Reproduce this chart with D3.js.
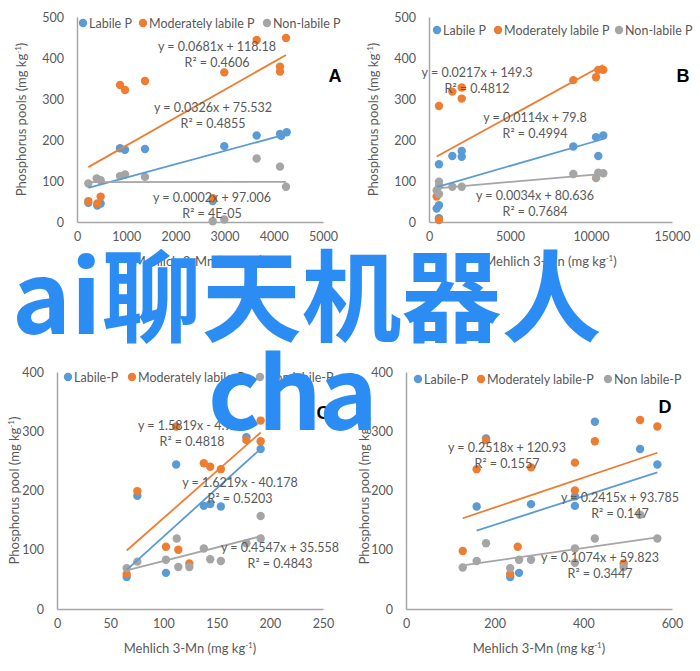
<!DOCTYPE html>
<html>
<head>
<meta charset="utf-8">
<script src="https://cdn.jsdelivr.net/npm/d3@7"></script>
<style>
  body { margin: 0; background: #fff; }
  text { font-family: Lato, "Noto Sans", sans-serif; }
</style>
</head>
<body>
<div id="d3_container"></div>
<script>

// ---- data ----
const seriesNames = ["Labile P", "Moderately labile P", "Non-labile P"];
const seriesNamesCD = ["Labile-P", "Moderately labile-P", "Non labile-P"];
const colors = ["#5b9bd5", "#ed7d31", "#a5a5a5"];

// panel A
const aLabile = [[230,47],[413,40],[481,45],[874,180],[976,176],[1382,178],[2758,51],[2994,185],[3652,211],[4126,215],[4150,210],[4262,219]];
const aModerate = [[230,51],[413,45],[481,62],[874,334],[976,322],[1382,344],[2758,58],[2994,365],[3652,444],[4126,379],[4126,367],[4248,449]];
const aNonLabile = [[230,94],[400,106],[481,102],[874,112],[976,116],[1382,110],[2758,2],[2994,6],[3652,155],[4126,135],[4248,86]];
const aTrend = [[0.0326,75.532],[0.0681,118.18],[0.0002,97.006]];
const aEq = [["y = 0.0326x + 75.532","R² = 0.4855"],["y = 0.0681x + 118.18","R² = 0.4606"],["y = 0.0002x + 97.006","R² = 4E-05"]];
const aXTicks = [0,1000,2000,3000,4000,5000];
const aYTicks = [0,100,200,300,400,500];

// panel B
const bLabile = [[475,33],[617,41],[617,9],[617,141],[1440,161],[2020,173],[2020,159],[8910,184],[10310,207],[10450,161],[10760,211]];
const bModerate = [[475,62],[617,5],[617,283],[1440,318],[2020,328],[2020,301],[8910,346],[10310,353],[10450,371],[10760,371]];
const bNonLabile = [[475,77],[617,98],[617,88],[617,68],[1440,86],[2020,86],[8910,117],[10310,107],[10450,120],[10760,119]];
const bTrend = [[0.0114,79.8],[0.0217,149.3],[0.0034,80.636]];
const bEq = [["y = 0.0114x + 79.8","R² = 0.4994"],["y = 0.0217x + 149.3","R² = 0.4812"],["y = 0.0034x + 80.636","R² = 0.7684"]];
const bXTicks = [0,5000,10000,15000];
const bYTicks = [0,100,200,300,400,500];

// panel C
const cLabile = [[65.5,54],[75.5,191],[102.4,61],[112,244],[138,174],[144,177],[154,173],[178,290],[191.4,270]];
const cModerate = [[65.5,59],[75.5,199],[102.4,105],[112,308],[114,100],[124.4,77],[138,246],[144,240],[154,236],[178,285],[191.4,318],[191.4,283]];
const cNonLabile = [[65.5,69],[75.5,80],[102.4,83],[112.5,119],[114,71],[124.4,71],[138,102],[144,84],[154,81],[178,111],[191.4,157],[191.4,119]];
const cTrend = [[1.6219,-40.178],[1.5819,-4.935],[0.4547,35.558]];
const cEq = [["y = 1.6219x - 40.178","R² = 0.5203"],["y = 1.5819x - 4.935","R² = 0.4818"],["y = 0.4547x + 35.558","R² = 0.4843"]];
const cXTicks = [0,50,100,150,200,250];
const cYTicks = [0,100,200,300,400];

// panel D
const dLabile = [[159.4,173],[180.5,288],[235,54],[255,61],[282,177],[381,174],[381,190],[426,316],[528,270],[567,244]];
const dModerate = [[128,98],[159.4,236],[180.5,285],[235,59],[252,105],[282,239],[381,247],[381,200],[426,283],[491,77],[528,319],[567,308]];
const dNonLabile = [[128,70],[159.4,81],[180.5,111],[235,69],[255,83],[282,83],[381,102],[381,78],[426,119],[491,71],[528,159],[567,119]];
const dTrend = [[0.2415,93.785],[0.2518,120.93],[0.1074,59.823]];
const dEq = [["y = 0.2415x + 93.785","R² = 0.147"],["y = 0.2518x + 120.93","R² = 0.1557"],["y = 0.1074x + 59.823","R² = 0.3447"]];
const dXTicks = [0,200,400,600];
const dYTicks = [0,100,200,300,400];

// ---- layout ----
const width = 700, height = 671;

const svg = d3.select("#d3_container").append("svg")
    .attr("width", width)
    .attr("height", height);

svg.append("rect").attr("width", width).attr("height", height).attr("fill", "#fff");

const panels = [
  {series: [aLabile, aModerate, aNonLabile], trend: aTrend, eq: aEq, xt: aXTicks, yt: aYTicks,
   x0: 77, x1: 323, yb: 222, yt0: 17, names: seriesNames, ytitle: "Phosphorus pools (mg kg", ytx: 26,
   legend: [83, 143, 267], legY: 23, letter: "A", lx: 335, ly: 82,
   eqPos: [[213,112],[217,51],[212,202]]},
  {series: [bLabile, bModerate, bNonLabile], trend: bTrend, eq: bEq, xt: bXTicks, yt: bYTicks,
   x0: 429, x1: 672, yb: 222, yt0: 17, names: seriesNames, ytitle: "Phosphorus pools (mg kg", ytx: 378,
   legend: [437, 498, 619], legY: 30, letter: "B", lx: 683, ly: 82,
   eqPos: [[535,122],[477,77],[535,200]]},
  {series: [cLabile, cModerate, cNonLabile], trend: cTrend, eq: cEq, xt: cXTicks, yt: cYTicks,
   x0: 57, x1: 323, yb: 609, yt0: 372, names: seriesNamesCD, ytitle: "Phosphorus pool (mg kg", ytx: 19,
   legend: [68, 132, 260], legY: 377, letter: "C", lx: 323, ly: 419,
   eqPos: [[240,487],[192,430],[280,552]]},
  {series: [dLabile, dModerate, dNonLabile], trend: dTrend, eq: dEq, xt: dXTicks, yt: dYTicks,
   x0: 406, x1: 672, yb: 609, yt0: 372, names: seriesNamesCD, ytitle: "Phosphorus pool (mg kg", ytx: 369,
   legend: [418, 481, 608], legY: 379, letter: "D", lx: 665, ly: 413,
   eqPos: [[620,502],[507,452],[600,562]]}
];

panels.forEach(function(p) {
  const x = d3.scaleLinear().domain([0, d3.max(p.xt)]).range([p.x0, p.x1]);
  const y = d3.scaleLinear().domain([0, d3.max(p.yt)]).range([p.yb, p.yt0]);
  const g = svg.append("g");

  // axes
  const xAxis = g.append("g")
      .attr("transform", `translate(0,${p.yb})`)
      .call(d3.axisBottom(x).tickValues(p.xt).tickFormat(d3.format("d"))
            .tickSize(0).tickPadding(10).tickSizeOuter(0));
  const yAxis = g.append("g")
      .attr("transform", `translate(${p.x0},0)`)
      .call(d3.axisLeft(y).tickValues(p.yt).tickFormat(d3.format("d"))
            .tickSize(0).tickPadding(13).tickSizeOuter(0));
  [xAxis, yAxis].forEach(function(a) {
    a.select(".domain").attr("stroke", "#a6a6a6").attr("stroke-width", 1.5);
    a.selectAll("text").attr("fill", "#595959").style("font-size", "12.5px")
      .style("font-family", "Lato, sans-serif");
  });

  // axis titles
  const xt = g.append("text")
      .attr("x", (p.x0 + p.x1) / 2)
      .attr("y", p.yb + 44)
      .attr("text-anchor", "middle")
      .attr("fill", "#595959")
      .style("font-size", "13px")
      .text("Mehlich 3-Mn (mg kg");
  xt.append("tspan").attr("dy", -5).style("font-size", "8px").text("-1");
  xt.append("tspan").attr("dy", 5).text(")");

  const yc = (p.yb + p.yt0) / 2;
  const ytt = g.append("text")
      .attr("transform", `translate(${p.ytx},${yc}) rotate(-90)`)
      .attr("text-anchor", "middle")
      .attr("fill", "#595959")
      .style("font-size", "13px")
      .text(p.ytitle);
  ytt.append("tspan").attr("dy", -5).style("font-size", "8px").text("-1");
  ytt.append("tspan").attr("dy", 5).text(")");

  // points
  p.series.forEach(function(s, i) {
    g.append("g").selectAll("circle")
      .data(s)
      .enter()
      .append("circle")
      .attr("cx", (d) => x(d[0]))
      .attr("cy", (d) => y(d[1]))
      .attr("r", 4.2)
      .attr("fill", colors[i]);
  });

  // trendlines
  const line = d3.line().x((d) => x(d[0])).y((d) => y(d[1]));
  p.series.forEach(function(s, i) {
    const ext = d3.extent(s, (d) => d[0]);
    const t = p.trend[i];
    g.append("path")
      .attr("d", line(ext.map((v) => [v, t[0] * v + t[1]])))
      .attr("fill", "none")
      .attr("stroke", colors[i])
      .attr("stroke-width", 1.8);
  });

  // equation labels
  p.eq.forEach(function(e, i) {
    const pos = p.eqPos[i];
    e.forEach(function(txt, k) {
      g.append("text")
        .attr("x", pos[0])
        .attr("y", pos[1] + k * 16)
        .attr("text-anchor", "middle")
        .attr("fill", "#595959")
        .style("font-size", "12.5px")
        .text(txt);
    });
  });

  // legend
  p.names.forEach(function(n, i) {
    g.append("circle")
      .attr("cx", p.legend[i])
      .attr("cy", p.legY)
      .attr("r", 4.2)
      .attr("fill", colors[i]);
    g.append("text")
      .attr("x", p.legend[i] + 6)
      .attr("y", p.legY + 4.5)
      .attr("fill", "#595959")
      .style("font-size", "12.5px")
      .text(n);
  });

  // panel letter
  g.append("text")
    .attr("x", p.lx)
    .attr("y", p.ly)
    .attr("text-anchor", "middle")
    .attr("fill", "#000")
    .style("font-size", "18px")
    .style("font-weight", "bold")
    .style("font-family", "'Liberation Sans', Arial, sans-serif")
    .text(p.letter);
});

// overlay text
const wm = svg.append("g")
    .attr("fill", "#2b8cf3")
    .style("font-weight", "bold")
    .style("font-size", "100px");
wm.append("text").attr("x", 12).attr("y", 334)
    .style("font-family", "'Noto Sans CJK SC', sans-serif").text("ai聊天机器人");
wm.append("text").attr("x", 208).attr("y", 430)
    .style("font-family", "'Noto Sans CJK SC', sans-serif")
    .style("letter-spacing", "-3px").text("cha");

</script>
</body>
</html>
